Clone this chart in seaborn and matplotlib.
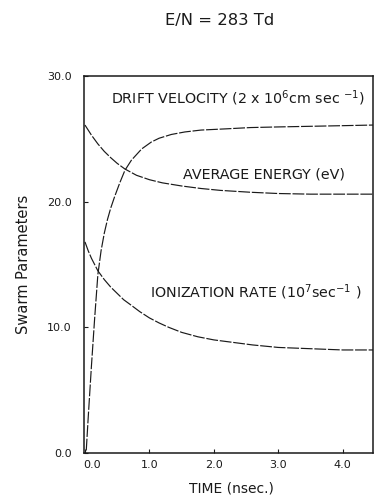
import matplotlib
matplotlib.use("Agg")
import matplotlib.pyplot as plt
import matplotlib.transforms as mtransforms
import seaborn as sns
import pandas as pd

# ---- data ----
t_drift = [0.02, 0.05, 0.10, 0.15, 0.20, 0.25, 0.30, 0.35, 0.40, 0.46, 0.54,
           0.62, 0.72, 0.88, 1.03, 1.15, 1.34, 1.55, 1.80, 2.20, 2.57, 3.00,
           3.50, 4.00, 4.47]
v_drift = [0.2, 2.8, 6.9, 10.7, 14.2, 16.1, 17.5, 18.6, 19.5, 20.4, 21.5,
           22.5, 23.3, 24.2, 24.75, 25.05, 25.35, 25.55, 25.7, 25.8, 25.9, 25.95,
           26.0, 26.05, 26.1]

t_energy = [0.0, 0.10, 0.20, 0.30, 0.40, 0.50, 0.62, 0.80, 1.00, 1.20, 1.50,
            1.80, 2.10, 2.57, 3.00, 3.50, 4.00, 4.47]
v_energy = [26.1, 25.3, 24.6, 24.0, 23.5, 23.05, 22.6, 22.1, 21.75, 21.5, 21.25,
            21.05, 20.9, 20.75, 20.65, 20.6, 20.6, 20.6]

t_ion = [0.0, 0.05, 0.10, 0.20, 0.30, 0.40, 0.50, 0.60, 0.72, 0.85, 1.00,
         1.15, 1.30, 1.50, 1.75, 2.00, 2.30, 2.60, 3.00, 3.50, 4.00, 4.47]
v_ion = [16.8, 16.1, 15.5, 14.5, 13.8, 13.2, 12.7, 12.2, 11.75, 11.25, 10.75,
         10.35, 10.0, 9.6, 9.25, 9.0, 8.8, 8.6, 8.4, 8.3, 8.2, 8.2]

x_ticks = [0, 1, 2, 3, 4]
x_ticklabels = ["0.0", "1.0", "2.0", "3.0", "4.0"]
y_ticks = [0, 10, 20, 30]
y_ticklabels = ["0.0", "10.0", "20.0", "30.0"]

title = "E/N = 283 Td"
xlabel = "TIME (nsec.)"
ylabel = "Swarm Parameters"
lbl_drift = r"DRIFT VELOCITY (2 x 10$^{6}$cm sec $^{-1}$)"
lbl_energy = "AVERAGE ENERGY (eV)"
lbl_ion = r"IONIZATION RATE (10$^{7}$sec$^{-1}$ )"

sns.set_style("ticks")
plt.rcParams['font.family'] = ['DejaVu Sans']
plt.rcParams['mathtext.fontset'] = 'dejavusans'

fig = plt.figure(figsize=(3.74, 4.96), dpi=100)
ax = fig.add_axes([0.2246, 0.0867, 0.773, 0.760])

ink = "#1a1a1a"
df_d = pd.DataFrame({"t": t_drift, "v": v_drift})
df_e = pd.DataFrame({"t": t_energy, "v": v_energy})
df_i = pd.DataFrame({"t": t_ion, "v": v_ion})
for df in (df_d, df_e, df_i):
    sns.lineplot(data=df, x="t", y="v", ax=ax, color=ink, linewidth=0.85,
                 estimator=None, sort=False, linestyle=(0, (10, 1.5)))

ax.set_xlim(-0.015, 4.47)
ax.set_ylim(0, 30)
ax.set_xticks(x_ticks)
ax.set_xticklabels(x_ticklabels)
ax.set_yticks(y_ticks)
ax.set_yticklabels(y_ticklabels)
ax.tick_params(direction="in", length=3, width=0.8, labelsize=8, colors=ink)
ax.tick_params(axis="x", pad=5)
ax.tick_params(axis="y", pad=9)
for s in ax.spines.values():
    s.set_linewidth(1.1)
    s.set_color(ink)

# first x label sits a little right of the spine, as in the reference
off = mtransforms.ScaledTranslation(7 / 100, 0, fig.dpi_scale_trans)
lab0 = ax.get_xticklabels()[0]
lab0.set_transform(lab0.get_transform() + off)

ax.set_xlabel(xlabel, fontsize=10, color=ink)
ax.set_ylabel(ylabel, fontsize=10.5, color=ink)
ax.xaxis.label.set_verticalalignment("center")
ax.yaxis.label.set_verticalalignment("center")
ax.xaxis.set_label_coords(0.51, -0.093)
ax.yaxis.set_label_coords(-0.21, 0.5)

ax.text(4.35, 28.2, lbl_drift, ha="right", va="center", fontsize=10.3, color=ink)
ax.text(4.03, 22.2, lbl_energy, ha="right", va="center", fontsize=10.3, color=ink)
ax.text(4.29, 12.8, lbl_ion, ha="right", va="center", fontsize=10.3, color=ink)

fig.text(220 / 374, 1 - 21 / 496, title, ha="center", va="center",
         fontsize=11.8, color=ink)

fig.savefig("out.png", dpi=100)
